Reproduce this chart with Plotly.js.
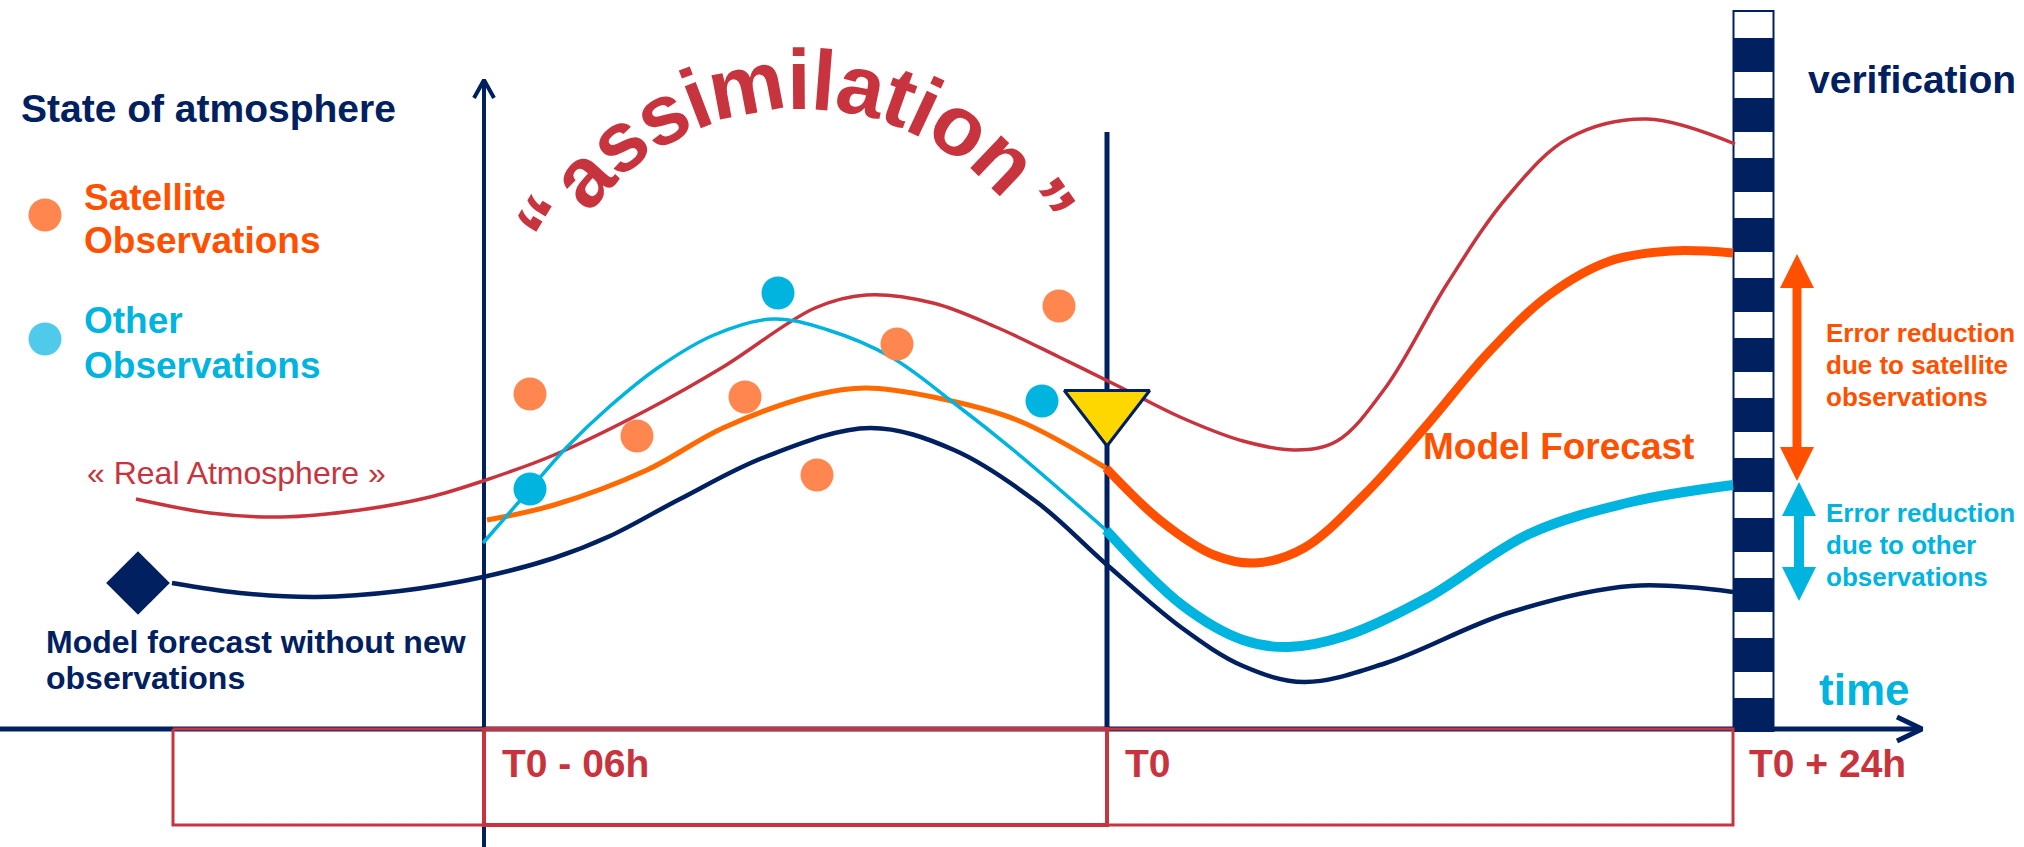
<!DOCTYPE html>
<html><head><meta charset="utf-8">
<script src="https://cdn.plot.ly/plotly-3.0.1.min.js"></script>
<style>html,body{margin:0;padding:0;background:#fff;overflow:hidden}#chart{width:2024px;height:847px}</style>
</head><body><div id="chart"></div>
<script>
// ---- schematic data (x = time position, y = state of atmosphere, upward) ----
const realX = [136,210,281,360,430,483,554,647,723,815,866,933,996,1059,1122,1180,1243,1296,1337,1386,1447,1508,1569,1647,1735];
const realY = [348,334,330,337,350,366,392,437,480,539,552,544,520,490,459,430,406,397,406,460,563,651,709,728,703];

const noObsX = [172,240,317,400,483,554,610,680,765,870,954,1038,1106,1182,1243,1304,1386,1508,1631,1733];
const noObsY = [264,254,250,256,270,289,311,348,390,419,397,344,283,219,181,165,184,234,261,255];

const otherAssimX = [483,531,567,609,659,714,773,828,891,954,1017,1106];
const otherAssimY = [304,359,400,440,480,512,528,517,490,444,394,317];
const otherFcstX = [1106,1182,1243,1288,1345,1427,1529,1631,1733];
const otherFcstY = [317,242,207,200,211,249,313,345,362];

const satAssimX = [487,554,647,723,815,866,933,1017,1106];
const satAssimY = [327,342,377,419,452,459,450,427,379];
const satFcstX = [1106,1161,1214,1255,1304,1365,1427,1488,1549,1610,1671,1733];
const satFcstY = [379,326,292,284,299,353,422,494,552,586,596,594];

const satObsX = [530,637,745,817,897,1059];
const satObsY = [453,411,450,372,503,541];
const otherObsX = [530,778,1042];
const otherObsY = [358,554,446];

const startX = [138], startY = [264];          // model start (diamond)
const analysisX = [1107], analysisY = [438];   // analysis at T0 (triangle)

const legendDotX = [45,45], legendDotY = [632,508];

const timeAxisX = [0,1922], timeAxisY = [118,118];
const timeHeadX = [1897,1922,1897], timeHeadY = [130,118,106];
const stateAxisX = [484,484], stateAxisY = [0,767];
const stateHeadX = [474,484,494], stateHeadY = [749,767,749];
const t0LineX = [1107,1107], t0LineY = [118,715];

const windowOuterX = [173,1733,1733,173,173], windowOuterY = [118,118,22,22,118];
const windowAssimX = [484,1107,1107,484,484], windowAssimY = [118,118,22,22,118];

const verifX = [1753.5], verifBase = [115], verifLen = [722];
const verifSquareBase = [809,749,689,629,569,509,449,389,329,269,209,149];
const verifSquareLen = [26,26,26,26,26,26,26,26,26,26,26,26];

const satArrow = {x:1797, top:593, bottom:366};
const otherArrow = {x:1799, top:365, bottom:246};

const tickLabels = ['T0 - 06h','T0','T0 + 24h'];
const tickLabelX = [502,1125,1749];

// ---- styles ----
const NAVY='#002060', RED='#C8343E', ORANGE='#FF5000', ORANGE_THIN='#FF6A00', CYAN='#00B4E0',
      DOT_OR='#FF874F', LEG_CY='#4FCAEA', YELLOW='#FFD700';
const FONT='Liberation Sans, Arial, sans-serif';

function line(x,y,color,width,shape){
  return {type:'scatter',mode:'lines',x:x,y:y,line:{color:color,width:width,shape:shape||'linear',smoothing:1},hoverinfo:'skip',showlegend:false};
}
function dots(x,y,color,size,symbol,lineColor,lineWidth){
  return {type:'scatter',mode:'markers',x:x,y:y,marker:{color:color,size:size,symbol:symbol||'circle',line:{color:lineColor||color,width:lineWidth||0}},hoverinfo:'skip',showlegend:false};
}
function doubleArrow(a,color,hl,hw,sw){
  const x=a.x, t=a.top, b=a.bottom;
  const px=[x, x+hw, x+sw, x+sw, x+hw, x, x-hw, x-sw, x-sw, x-hw, x];
  const py=[t, t-hl, t-hl, b+hl, b+hl, b, b+hl, b+hl, t-hl, t-hl, t];
  return {type:'scatter',mode:'lines',x:px,y:py,fill:'toself',fillcolor:color,line:{width:0,color:color},hoverinfo:'skip',showlegend:false};
}

const traces = [
  {type:'bar',x:verifX,base:verifBase,y:verifLen,width:42,marker:{color:NAVY,line:{width:0}},hoverinfo:'skip',showlegend:false},
  {type:'bar',x:verifSquareBase.map(()=>verifX[0]),base:verifSquareBase,y:verifSquareLen,width:38,marker:{color:'#ffffff',line:{width:0}},hoverinfo:'skip',showlegend:false},
  line(timeAxisX,timeAxisY,NAVY,5),
  line(timeHeadX,timeHeadY,NAVY,5),
  line(stateAxisX,stateAxisY,NAVY,4),
  line(stateHeadX,stateHeadY,NAVY,4),
  line(t0LineX,t0LineY,NAVY,5),
  line(windowOuterX,windowOuterY,RED,3),
  line(windowAssimX,windowAssimY,RED,4),
  line(realX,realY,RED,3.5,'spline'),
  line(noObsX,noObsY,NAVY,4.5,'spline'),
  line(satAssimX,satAssimY,ORANGE_THIN,5,'spline'),
  line(satFcstX,satFcstY,ORANGE,9,'spline'),
  line(otherAssimX,otherAssimY,CYAN,3.5,'spline'),
  line(otherFcstX,otherFcstY,CYAN,10,'spline'),
  dots(satObsX,satObsY,DOT_OR,33),
  dots(otherObsX,otherObsY,CYAN,33),
  dots(startX,startY,NAVY,49,'diamond'),
  dots(analysisX,analysisY,YELLOW,74,'triangle-down',NAVY,3),
  dots([legendDotX[0]],[legendDotY[0]],DOT_OR,33),
  dots([legendDotX[1]],[legendDotY[1]],LEG_CY,33),
  doubleArrow(satArrow,ORANGE,34,17,4.5),
  doubleArrow(otherArrow,CYAN,34,17,5)
];

function txt(text,x,y,size,color,bold){
  return {text:text,x:x,y:y,xref:'x',yref:'y',showarrow:false,xanchor:'left',yanchor:'middle',
          font:{family:FONT,size:size,color:color,weight:bold?700:400}};
}
const annotations = [
  txt('State of atmosphere',19,739,39,NAVY,true),
  txt('Satellite',82,650,37,ORANGE,true),
  txt('Observations',82,607,37,ORANGE,true),
  txt('Other',82,527,37,CYAN,true),
  txt('Observations',82,482,37,CYAN,true),
  txt('« Real Atmosphere »',85,374,32,RED,false),
  txt('Model forecast without new',44,205,32,NAVY,true),
  txt('observations',44,169,32,NAVY,true),
  txt('verification',1806,768,39,NAVY,true),
  txt('Model Forecast',1421,401,37,ORANGE,true),
  txt('Error reduction',1824,514,26,ORANGE,true),
  txt('due to satellite',1824,482,26,ORANGE,true),
  txt('observations',1824,450,26,ORANGE,true),
  txt('Error reduction',1824,334,26,CYAN,true),
  txt('due to other',1824,302,26,CYAN,true),
  txt('observations',1824,270,26,CYAN,true),
  txt('time',1817,158,44,CYAN,true)
];
tickLabels.forEach((t,i)=>annotations.push(txt(t,tickLabelX[i]-2,84,39,RED,true)));

// arched "assimilation" title
const arcChars = ['“','a','s','s','i','m','i','l','a','t','i','o','n','”'];
const arcAdv = [0.5,0.556,0.556,0.556,0.278,0.889,0.278,0.278,0.556,0.333,0.278,0.611,0.611,0.5];
const arcGap = [0.09,0,0,0,0,0,0,0,0,0,0,0,0.09,0];
(function(){
  const fs=85, tight=0.96, cx=801, cy=472, Rb=266, Rc=266+0.35*fs, mid=-1.85*Math.PI/180;
  let total=0; arcAdv.forEach((a,i)=>total+=(a*tight+arcGap[i])*fs);
  total-=arcGap[arcGap.length-1]*fs;
  let s=0;
  const start=mid-total/(2*Rb);
  arcChars.forEach((c,i)=>{
    const w=arcAdv[i]*tight*fs;
    const th=start+(s+w/2)/Rb;
    s+=w+arcGap[i]*fs;
    annotations.push({text:c,x:cx+Rc*Math.sin(th),y:cy+Rc*Math.cos(th),xref:'x',yref:'y',showarrow:false,
      xanchor:'center',yanchor:'middle',textangle:th*180/Math.PI,
      font:{family:FONT,size:fs,color:RED,weight:700}});
  });
})();

const layout = {
  width:2024,height:847,margin:{l:0,r:0,t:0,b:0,pad:0},
  paper_bgcolor:'#ffffff',plot_bgcolor:'#ffffff',showlegend:false,barmode:'overlay',
  xaxis:{range:[0,2024],visible:false,fixedrange:true},
  yaxis:{range:[0,847],visible:false,fixedrange:true},
  annotations:annotations
};
Plotly.newPlot('chart',traces,layout,{staticPlot:true,displayModeBar:false});
</script></body></html>
